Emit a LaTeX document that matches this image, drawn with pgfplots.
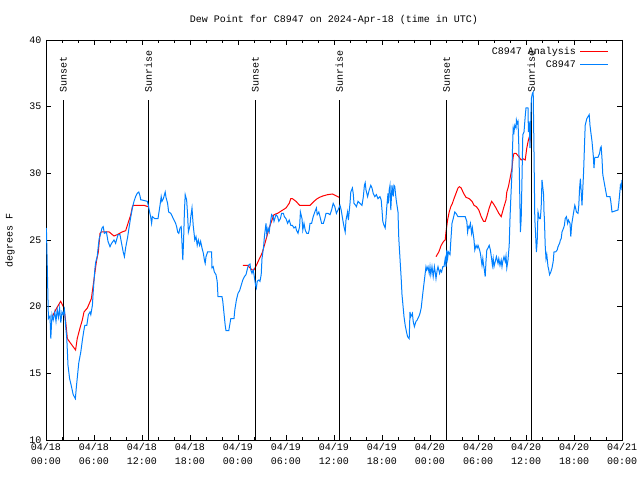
\documentclass[border=0pt]{standalone}
\usepackage{fontspec}
\setmainfont{Liberation Mono}
\usepackage{pgfplots}
\pgfplotsset{compat=1.18}
\definecolor{cblue}{RGB}{0,128,255}
\definecolor{cred}{RGB}{255,0,0}
\begin{document}
\fontsize{10bp}{14bp}\selectfont
\begin{tikzpicture}
\path[use as bounding box] (-46bp,-40bp) rectangle (594bp,440bp);
\begin{axis}[
  at={(0,0)}, anchor=south west, scale only axis,
  width=576bp, height=400bp,
  xmin=0, xmax=72, ymin=10, ymax=40,
  xtick={0,6,...,72},
  xticklabels={{04/18\\00:00},{04/18\\06:00},{04/18\\12:00},{04/18\\18:00},{04/19\\00:00},{04/19\\06:00},{04/19\\12:00},{04/19\\18:00},{04/20\\00:00},{04/20\\06:00},{04/20\\12:00},{04/20\\18:00},{04/21\\00:00}},
  minor x tick num=2,
  ytick={10,15,...,40},
  /pgf/number format/assume math mode=true,
  tick align=inside, tick pos=both,
  major tick length=5bp, minor tick length=3bp,
  tick style={black, line width=0.8bp},
  axis line style={black, line width=0.8bp},
  xticklabel style={align=center, font=\fontsize{10bp}{14bp}\selectfont},
  yticklabel style={font=\fontsize{10bp}{12bp}\selectfont, xshift=-1bp},
  ylabel={degrees F},
  ylabel style={at={(axis description cs:-0.0625,0.5)}, anchor=center, font=\fontsize{10bp}{12bp}\selectfont},
  title={Dew Point for C8947 on 2024-Apr-18 (time in UTC)},
  title style={at={(axis description cs:0.5,1)}, anchor=base, yshift=12bp, font=\fontsize{10bp}{12bp}\selectfont},
  legend plot pos=right,
  legend cell align=right,
  legend style={draw=none, fill=none, at={(axis description cs:1,1)}, anchor=north east,
    xshift=-10bp, yshift=-3bp, row sep=0bp, column sep=2bp,
    nodes={inner sep=2bp, text height=7bp, text depth=2bp},
    font=\fontsize{10bp}{12bp}\selectfont},
  legend image code/.code={\draw[#1] (0bp,0bp) -- (28bp,0bp);},
]
% Analysis (red), three segments
\addplot[cred, line width=1bp] coordinates {
(0.79,19.25) (1.2,19.75) (1.83,20.4) (2.25,19.9) (2.46,18.9) (2.67,17.6) (3.08,17.25) (3.7,16.75) (3.9,17.6) (4.25,18.4) (4.54,19.0) (4.75,19.6) (5.17,19.9) (5.67,20.6) (5.9,21.6) (6.1,22.5) (6.33,23.5) (6.54,24.1) (6.75,25.5) (6.9,25.6) (7.25,25.6) (7.9,25.6) (8.5,25.3) (8.9,25.4) (9.5,25.6) (9.96,25.7) (10.25,26.25) (10.6,26.9) (10.8,27.5) (10.9,27.6) (12.25,27.6) (12.75,27.5)
};
\addlegendentry{C8947 Analysis}
\addplot[cred, line width=1bp, forget plot] coordinates {
(24.6,23.1) (25.2,23.1) (25.75,22.75) (26.0,22.75) (26.3,23.1) (26.6,23.5) (27.0,24.0) (27.3,24.6) (27.6,25.25) (27.9,25.9) (28.25,26.5) (28.5,26.9) (28.95,27.0) (29.6,27.25) (30.0,27.4) (30.4,27.75) (30.6,28.1) (30.8,28.1) (31.25,27.9) (31.7,27.6) (33.0,27.6) (33.5,27.9) (33.9,28.1) (34.2,28.2) (34.6,28.3) (35.2,28.4) (35.8,28.45) (36.3,28.3) (36.65,28.2)
};
\addplot[cred, line width=1bp, forget plot] coordinates {
(48.75,23.75) (49.1,24.1) (49.4,24.6) (49.7,24.9) (49.9,25.0) (50.0,25.6) (50.2,26.5) (50.4,27.1) (50.6,27.5) (50.8,27.75) (51.0,28.1) (51.25,28.5) (51.5,28.9) (51.67,29.0) (51.9,28.9) (52.2,28.5) (52.5,28.2) (52.9,28.1) (53.25,27.9) (53.5,27.6) (53.8,27.5) (54.1,27.25) (54.4,26.75) (54.7,26.4) (54.9,26.4) (55.1,26.75) (55.4,27.4) (55.7,27.9) (55.9,27.75) (56.25,27.4) (56.6,27.0) (56.9,26.75) (57.2,27.4) (57.5,28.0) (57.6,28.6) (57.8,29.0) (58.0,29.6) (58.25,30.4) (58.4,31.25) (58.5,31.5) (58.75,31.5) (59.1,31.25) (59.4,31.0) (59.6,31.1) (59.9,31.0) (60.1,31.9) (60.3,32.5) (60.5,32.9) (60.67,32.25)
};
% Sunset / Sunrise lines
\addplot[black, line width=1bp, forget plot] coordinates {(2.17,10) (2.17,35.5)} node[pos=1, rotate=90, anchor=west, inner sep=6.5bp, font=\fontsize{10bp}{12bp}\selectfont] {Sunset};
\addplot[black, line width=1bp, forget plot] coordinates {(12.79,10) (12.79,35.5)} node[pos=1, rotate=90, anchor=west, inner sep=6.5bp, font=\fontsize{10bp}{12bp}\selectfont] {Sunrise};
\addplot[black, line width=1bp, forget plot] coordinates {(26.17,10) (26.17,35.5)} node[pos=1, rotate=90, anchor=west, inner sep=6.5bp, font=\fontsize{10bp}{12bp}\selectfont] {Sunset};
\addplot[black, line width=1bp, forget plot] coordinates {(36.67,10) (36.67,35.5)} node[pos=1, rotate=90, anchor=west, inner sep=6.5bp, font=\fontsize{10bp}{12bp}\selectfont] {Sunrise};
\addplot[black, line width=1bp, forget plot] coordinates {(50.08,10) (50.08,35.5)} node[pos=1, rotate=90, anchor=west, inner sep=6.5bp, font=\fontsize{10bp}{12bp}\selectfont] {Sunset};
\addplot[black, line width=1bp, forget plot] coordinates {(60.67,10) (60.67,35.5)} node[pos=1, rotate=90, anchor=west, inner sep=6.5bp, font=\fontsize{10bp}{12bp}\selectfont] {Sunrise};
% Observations (blue)
\addplot[cblue, line width=1bp] coordinates {
(0.05,25.9) (0.1,24.6) (0.2,21.9) (0.3,19.1) (0.5,19.3) (0.6,17.6) (0.75,19.4) (0.9,19.0) (1.1,19.6) (1.25,18.9) (1.4,19.8) (1.55,19.2) (1.7,19.9) (1.85,18.8) (2.0,19.6) (2.15,19.4) (2.3,19.8) (2.45,18.6) (2.6,17.6) (2.75,15.6) (2.95,14.6) (3.15,14.1) (3.4,13.4) (3.67,13.1) (3.8,14.0) (3.95,14.9) (4.1,15.8) (4.35,16.6) (4.55,17.5) (4.7,18.1) (4.85,18.6) (5.1,18.6) (5.3,19.4) (5.5,19.6) (5.6,19.4) (5.8,20.1) (5.9,21.1) (6.1,22.75) (6.2,23.3) (6.4,23.75) (6.55,24.6) (6.65,25.1) (6.8,25.4) (7.0,25.9) (7.15,26.0) (7.3,25.5) (7.55,25.6) (7.75,24.9) (8.0,24.5) (8.2,24.75) (8.5,25.0) (8.7,24.75) (9.0,25.4) (9.25,25.4) (9.4,24.9) (9.65,24.1) (9.8,23.75) (9.95,24.4) (10.2,25.2) (10.4,26.0) (10.6,26.75) (10.8,27.4) (11.0,27.9) (11.2,28.25) (11.4,28.5) (11.6,28.6) (11.75,28.3) (11.85,28.0) (12.0,28.0) (12.67,27.9) (12.79,27.6) (12.9,27.25) (13.08,26.75) (13.2,26.25)
(13.3,26.75) (13.6,26.6) (14.0,26.6) (14.25,27.6) (14.4,28.25) (14.5,27.9) (14.67,28.1) (14.9,28.6) (15.0,28.2) (15.2,27.75) (15.33,27.1) (15.6,27.0) (15.8,26.75) (16.0,26.5) (16.2,26.25) (16.33,26.0) (16.46,25.6) (16.6,25.5) (16.75,25.9) (16.9,26.0) (17.04,24.25) (17.1,23.5) (17.2,25.0) (17.3,27.1) (17.4,28.4) (17.58,28.0) (17.7,26.9) (17.8,25.6) (18.0,26.1) (18.1,26.75) (18.25,27.4) (18.4,26.1) (18.6,25.0) (18.75,25.25) (18.9,24.6) (19.04,25.0) (19.2,24.6) (19.33,24.9) (19.5,24.4) (19.67,24.0) (19.8,23.5) (19.9,23.25) (20.0,23.75) (20.2,24.1) (20.7,24.1) (20.75,22.9) (20.9,23.0) (21.04,22.6) (21.25,22.4) (21.4,21.9) (21.5,20.75) (22.0,20.75) (22.1,20.4) (22.25,19.5) (22.4,18.6) (22.5,18.2) (22.85,18.2) (23.0,18.75) (23.1,19.1) (23.5,19.1) (23.6,19.75) (23.8,20.5) (24.0,21.0) (24.2,21.2)
(24.4,21.6) (24.6,22.0) (24.8,22.25) (25.0,22.4) (25.2,22.9) (25.3,23.1) (25.5,23.2) (25.6,22.75) (25.75,22.5) (25.9,22.75) (26.0,22.4) (26.2,21.6) (26.3,21.4) (26.4,21.9) (26.6,22.0) (26.75,21.9) (26.9,22.4) (27.0,23.6) (27.2,24.5) (27.3,25.25) (27.4,25.75) (27.5,26.25) (27.6,25.4) (27.75,25.9) (27.9,25.6) (28.0,26.1) (28.2,26.9) (28.4,26.75) (28.5,26.4) (28.75,26.9) (28.95,26.75) (29.1,26.4) (29.3,26.6) (29.45,27.0) (29.67,27.0) (29.8,26.75) (30.0,26.6) (30.2,26.25) (30.4,26.5) (30.6,26.1) (30.8,26.1) (31.0,25.9) (31.2,26.0) (31.3,25.75) (31.5,25.5) (31.7,26.0) (31.8,27.1) (32.0,26.6) (32.1,25.75) (32.25,26.25) (32.4,25.75) (32.6,25.5) (32.8,25.5) (32.9,25.75) (33.0,26.25) (33.2,26.25) (33.4,26.75) (33.6,27.1) (33.8,27.4) (33.9,26.9) (34.1,27.1) (34.25,26.75) (34.45,26.25) (34.67,26.25) (34.85,26.6) (35.0,27.0) (35.25,27.0) (35.5,26.9) (35.7,27.25) (35.9,27.75) (36.1,27.5) (36.3,27.0) (36.5,27.25) (36.75,27.6) (36.9,27.25) (37.1,26.5) (37.25,26.0) (37.4,25.6) (37.5,26.5) (37.7,27.1) (37.8,26.5) (38.0,27.75) (38.1,28.6) (38.3,28.9) (38.4,28.5) (38.5,27.75) (38.7,27.6) (38.8,27.5) (39.0,27.9) (39.25,27.75) (39.5,27.6) (39.67,28.25) (39.8,29.1) (39.9,29.3) (40.0,28.75) (40.2,28.25) (40.4,28.75) (40.6,29.1) (40.75,28.9) (40.9,28.5) (41.1,28.25) (41.3,28.4) (41.5,28.1) (41.75,28.25) (41.9,28.0) (42.0,27.25) (42.1,26.4) (42.25,26.1) (42.4,25.9) (42.5,26.6) (42.6,27.5) (42.75,28.5) (42.8,27.75) (42.9,28.75) (43.0,29.1) (43.1,27.25) (43.25,29.1) (43.4,28.25) (43.5,29.1) (43.6,29.0) (43.7,28.4) (43.8,27.9) (44.0,27.1) (44.1,25.1) (44.25,23.6) (44.4,22.1) (44.5,20.9) (44.6,20.25) (44.75,19.25) (44.9,18.6) (45.1,18.0) (45.2,17.75) (45.4,17.6) (45.5,19.6) (45.6,19.25) (45.8,19.5) (45.9,18.9) (46.05,18.5) (46.25,18.9) (46.4,19.0) (46.6,19.25) (46.75,19.5) (46.9,19.9) (47.1,21.0) (47.25,21.75) (47.4,22.5) (47.5,23.0) (47.6,22.75) (47.75,23.0) (47.9,22.5) (48.0,23.0) (48.1,22.4) (48.25,23.0) (48.4,22.25) (48.55,23.0) (48.65,22.6) (48.75,22.1) (48.9,22.75) (49.0,23.0) (49.2,22.5) (49.3,22.75) (49.45,22.6) (49.6,23.0) (49.75,23.0) (49.9,23.6) (50.0,23.0) (50.1,24.25) (50.2,23.6) (50.3,24.1) (50.5,23.9) (50.6,24.9) (50.75,26.25) (50.9,26.6) (51.1,27.1) (51.25,27.0) (51.5,26.75) (52.4,26.75) (52.6,26.4) (52.7,25.6) (52.8,26.0) (52.9,25.9) (53.05,26.25) (53.2,25.5) (53.3,25.9) (53.5,25.0) (53.6,24.25) (53.75,24.6) (53.9,24.4) (54.0,24.6) (54.2,24.25) (54.3,24.0) (54.5,23.1) (54.6,23.6) (54.7,23.1) (54.8,22.75) (54.9,22.25) (55.0,23.4) (55.1,24.25) (55.25,24.4) (55.4,24.6) (55.55,24.25) (55.7,23.6) (55.8,23.1) (55.9,23.6) (56.0,23.0) (56.2,23.5) (56.3,23.75) (56.5,23.25) (56.6,23.6) (56.75,23.1) (56.9,23.5) (57.0,23.0) (57.1,23.4) (57.25,23.75) (57.4,23.4) (57.5,23.8) (57.6,22.9) (57.75,23.5) (57.9,24.6) (58.0,26.6) (58.1,28.1) (58.25,30.1) (58.3,31.6) (58.4,33.4) (58.5,33.1) (58.6,33.6) (58.75,33.4) (58.8,34.0) (58.9,33.75) (59.0,33.9) (59.1,32.1) (59.2,29.1) (59.3,25.6) (59.4,26.6) (59.5,29.6) (59.6,32.9) (59.75,33.1) (59.9,34.25) (60.0,34.9) (60.25,34.9) (60.3,33.1) (60.4,33.9) (60.5,31.9) (60.67,35.6) (60.8,36.0) (60.9,36.1) (61.0,31.6) (61.1,26.6) (61.2,25.4) (61.3,24.1) (61.4,24.9) (61.5,27.1) (61.67,26.6) (61.8,26.6) (61.9,27.5) (62.0,29.5) (62.2,28.4) (62.25,27.1) (62.3,26.6) (62.4,24.6) (62.5,23.6) (62.6,23.9) (62.75,23.0) (62.8,22.9) (62.95,22.4) (63.1,22.6) (63.25,22.9) (63.4,23.4) (63.5,24.1) (63.7,24.1) (63.9,24.25) (64.0,24.5) (64.2,24.75) (64.3,25.0) (64.4,25.1) (64.5,25.6) (64.7,25.9) (64.8,26.1) (64.9,26.6) (65.05,26.75) (65.2,26.25) (65.3,26.5) (65.5,26.25) (65.6,25.25) (65.7,26.1) (65.8,26.5) (66.0,27.25) (66.1,27.6) (66.2,27.4) (66.3,27.1) (66.5,27.0) (66.6,27.6) (66.7,28.9) (66.8,29.6) (66.9,28.6) (67.0,27.6) (67.2,30.1) (67.3,31.9) (67.4,33.6) (67.6,34.1) (67.75,34.25) (67.9,34.4) (68.0,33.6) (68.1,33.1) (68.25,32.4) (68.4,31.4) (68.5,30.4) (68.6,31.2) (69.0,31.2) (69.2,31.5) (69.3,31.9) (69.4,32.0) (69.5,31.1) (69.6,29.9) (69.75,29.4) (69.9,28.9) (70.1,28.25) (70.5,28.25) (70.6,27.9) (70.75,27.1) (71.5,27.25) (71.6,27.75) (71.7,28.4) (71.8,29.1) (71.9,28.9) (72.0,29.5)
};
\addlegendentry{C8947}
\end{axis}
\end{tikzpicture}
\end{document}
